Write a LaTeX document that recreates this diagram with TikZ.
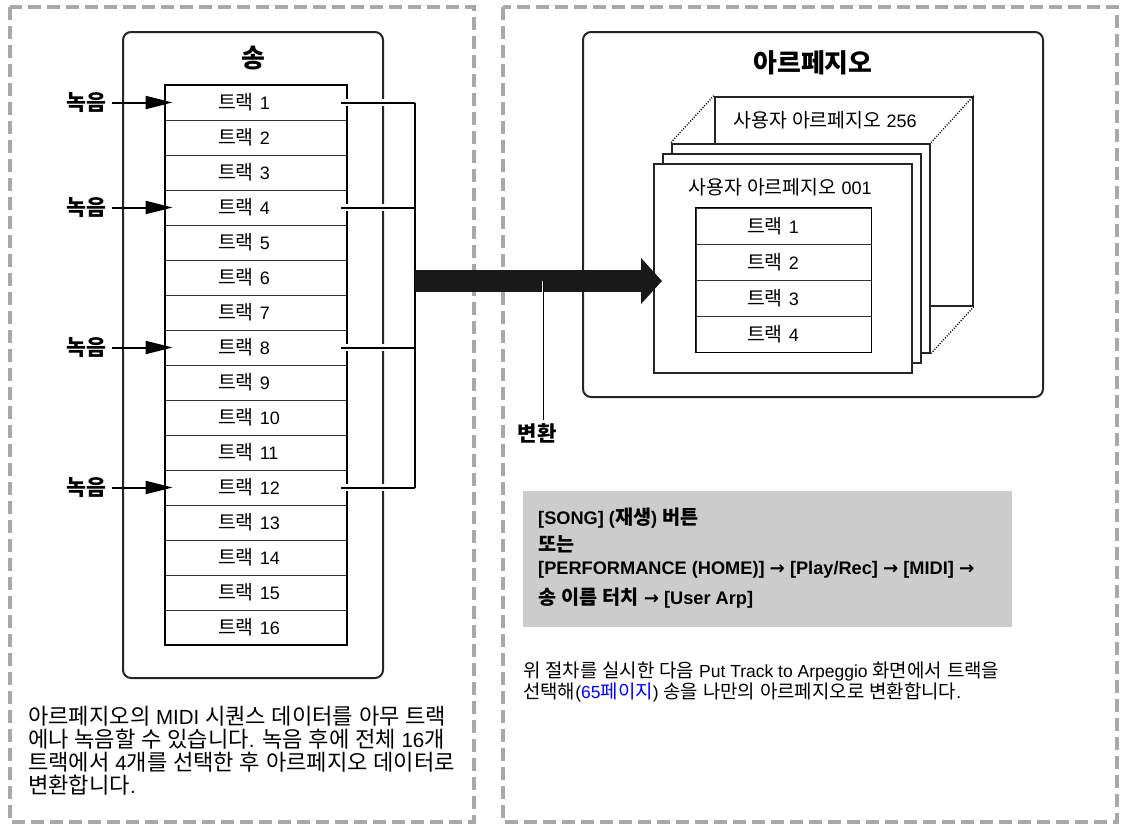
\documentclass[tikz,border=0pt]{standalone}
\usepackage{fontspec}
\setmainfont{Liberation Sans}
\newfontfamily\krfam{Noto Sans CJK KR}[Scale=1.08]
\newfontfamily\arrowfont{DejaVu Sans}
% hangul in Noto, the rest in Liberation Sans
\newXeTeXintercharclass\krclass
\newcount\hangulcode
\hangulcode="AC00
\loop
  \XeTeXcharclass\hangulcode=\krclass
  \advance\hangulcode by 1
\ifnum\hangulcode<"D7A4 \repeat
\XeTeXinterchartoks 0 \krclass = {\krfam}
\XeTeXinterchartoks 4095 \krclass = {\krfam}
\XeTeXinterchartoks \krclass 0 = {\rmfamily}
\XeTeXinterchartoks \krclass 4095 = {\rmfamily}
\AtBeginDocument{\XeTeXinterchartokenstate=1}
\usepackage{tikz}
\usetikzlibrary{arrows.meta,positioning,calc}
\definecolor{framegray}{RGB}{168,168,170}
\definecolor{boxgray}{RGB}{204,204,204}
\definecolor{linkblue}{RGB}{0,0,255}
\newcommand{\ra}{{\arrowfont\bfseries →}}

\begin{document}
\begin{tikzpicture}[x=1pt,y=-1pt,
    frame/.style={draw=framegray, line width=3.5pt, dash pattern=on 13pt off 6pt},
    outer/.style={draw=black!85, line width=2pt, rounded corners=8pt},
    title/.style={font=\fontsize{24}{28}\selectfont\bfseries},
    track/.style={draw=black!80, line width=0.8pt, minimum height=35pt, inner ysep=0pt, inner xsep=53pt, text width=76pt, align=left, font=\fontsize{18}{20}\selectfont},
    rec/.style={inner sep=2pt, font=\fontsize{20}{20}\selectfont\bfseries},
    recarrow/.style={-{Triangle[length=27pt,width=13pt]}, line width=2pt, shorten <=3pt},
    link/.style={line width=2pt, preaction={draw=white, line width=7pt}},
    fat/.style={draw=black!90, line width=22pt, -{Triangle[length=21pt,width=45pt]}},
    sheet/.style={draw=black!85, line width=2pt, fill=white, minimum width=258pt, minimum height=209pt},
    sheetlabel/.style={inner sep=0pt, font=\fontsize{18}{20}\selectfont},
    dots/.style={line width=1.4pt, dash pattern=on 1pt off 1.6pt},
    note/.style={inner sep=0pt, align=left, anchor=north west}
]
    \useasboundingbox (0,0) rectangle (1121,825);
    \draw[frame] (10,7) rectangle (474,822);
    \draw[frame] (503,7) rectangle (1117,822);

    % song
    \node[outer, minimum width=260pt, minimum height=646pt] (song) at (253,355) {};
    \node[title] (songtitle) at (253,58) {송};
    \foreach \i in {1,...,16}
        \node[track] (t\i) at (256,{67.5+35*\i}) {트랙 \i};
    \draw[line width=2pt] (t1.north west) rectangle (t16.south east);

    \foreach \i in {1,4,8,12} {
        \node[rec] (r\i) at ($(t\i.west)+(-78,0)$) {녹음};
        \draw[recarrow] (r\i) -- ([xshift=8pt]t\i.west);
    }

    \coordinate (fork) at (415,281);
    \foreach \i in {1,4,8,12}
        \draw[link] ([xshift=-6pt]t\i.east) -- (t\i.east -| fork);
    \draw[line width=2pt] (t1.east -| fork) -- (t12.east -| fork);

    % arpeggio
    \node[outer, minimum width=460pt, minimum height=365pt] (arp) at (813,214.5) {};
    \node[title] (arptitle) at (813,63) {아르페지오};
    \node[sheet] (back) at (844,201) {};
    \node[sheet] (third) at (801,248) {};
    \node[sheet] (second) at (792,258) {};
    \node[sheet] (front) at (783,268) {};
    \draw[dots] (third.north west) -- (back.north west);
    \draw[dots] (third.north east) -- (back.north east);
    \draw[dots] (third.south east) -- (back.south east);
    \node[sheetlabel] (backlabel) at (825,120) {사용자 아르페지오 256};
    \node[sheetlabel] (frontlabel) at (780,187) {사용자 아르페지오 001};
    \foreach \i in {1,...,4}
        \node[track, minimum height=36pt, inner xsep=51pt, text width=73pt] (a\i) at (783.5,{190+36*\i}) {트랙 \i};
    \draw[line width=1pt] (a1.north west) rectangle (a4.south east);

    \draw[fat] (fork) -- ($(fork -| front.west)+(9,0)$);
    \coordinate (convpt) at (543,281);
    \node[font=\fontsize{19.5}{24}\selectfont\bfseries] (conv) at (537,433) {변환};
    \draw[line width=0.7pt, preaction={draw=white, line width=2.5pt}] (convpt) -- (convpt |- conv.north);

    % route box
    \node[fill=boxgray, minimum width=489pt, minimum height=136pt, inner sep=0pt, anchor=south west] (gbox) at (523,627) {};
    \node[note, font=\fontsize{18.2}{23}\selectfont\bfseries] (route) at (538,508)
        {[SONG] (재생) 버튼\\[4pt] 또는\\{}[PERFORMANCE (HOME)] \ra{} [Play/Rec] \ra{} [MIDI] \ra\\[7pt] 송 이름 터치 \ra{} [User Arp]};

    \node[note, font=\fontsize{17.5}{21}\selectfont] (rightnote) at (523,662)
        {위 절차를 실시한 다음 Put Track to Arpeggio 화면에서 트랙을\\ 선택해({\color{linkblue}65페이지}) 송을 나만의 아르페지오로 변환합니다.};
    \node[note, font=\fontsize{20.5}{23}\selectfont] (leftnote) at (28,706)
        {아르페지오의 MIDI 시퀀스 데이터를 아무 트랙\\ 에나 녹음할 수 있습니다. 녹음 후에 전체 16개\\ 트랙에서 4개를 선택한 후 아르페지오 데이터로\\ 변환합니다.};
\end{tikzpicture}
\end{document}
